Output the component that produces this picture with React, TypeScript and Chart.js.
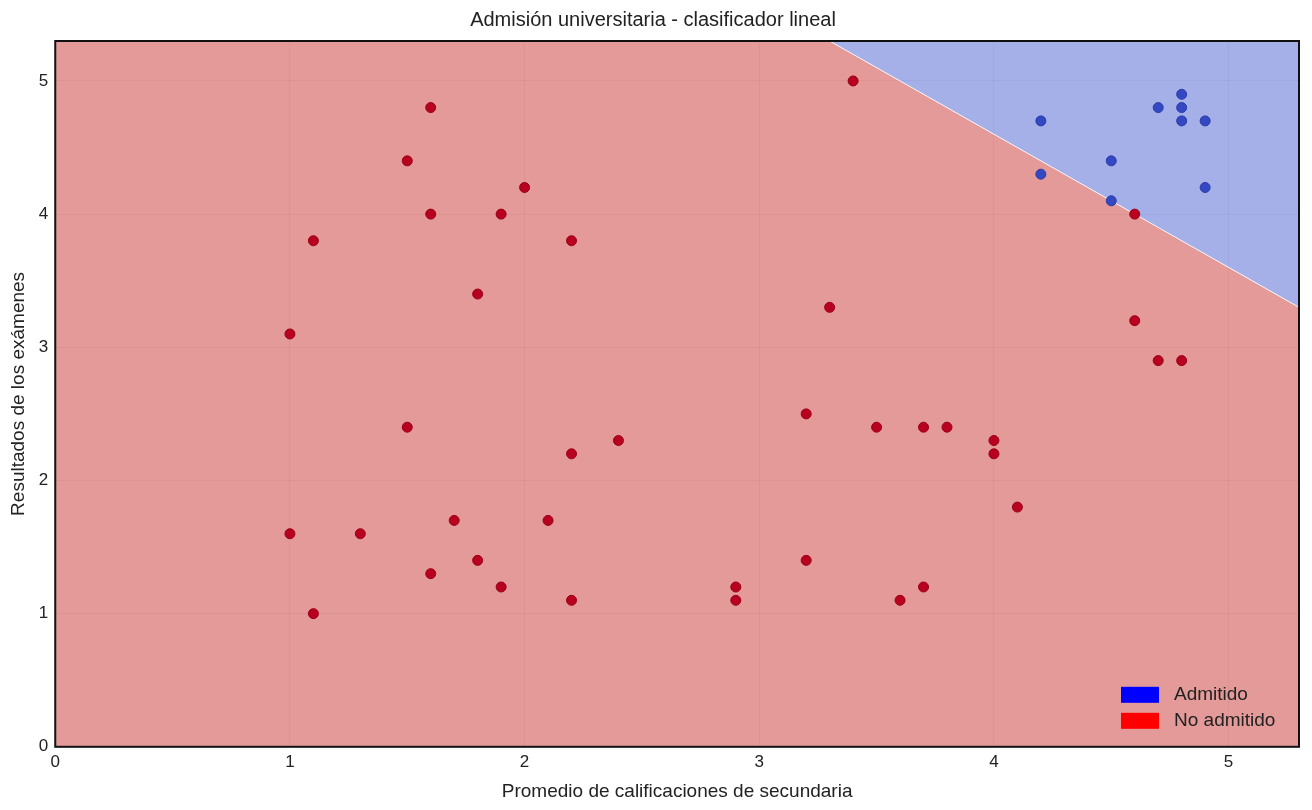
import React, { useEffect, useRef } from 'react'
import { Chart, registerables } from 'chart.js'

Chart.register(...registerables)

// alumnos admitidos (promedio, examen)
const admitidoX = [4.2, 4.2, 4.5, 4.5, 4.7, 4.8, 4.8, 4.8, 4.9, 4.9]
const admitidoY = [4.7, 4.3, 4.4, 4.1, 4.8, 4.9, 4.8, 4.7, 4.7, 4.2]

// alumnos no admitidos
const noAdmitidoX = [
  3.4, 1.6, 1.5, 2.0, 1.6, 1.9, 1.1, 2.2, 1.8, 3.3, 1.0, 4.6, 4.7, 4.8, 4.6, 3.2, 1.5, 3.5, 3.7, 3.8,
  2.4, 4.0, 2.2, 4.0, 4.1, 1.7, 2.1, 1.0, 1.3, 1.8, 3.2, 1.6, 1.9, 2.9, 3.7, 2.2, 2.9, 3.6, 1.1,
]
const noAdmitidoY = [
  5.0, 4.8, 4.4, 4.2, 4.0, 4.0, 3.8, 3.8, 3.4, 3.3, 3.1, 3.2, 2.9, 2.9, 4.0, 2.5, 2.4, 2.4, 2.4, 2.4,
  2.3, 2.3, 2.2, 2.2, 1.8, 1.7, 1.7, 1.6, 1.6, 1.4, 1.4, 1.3, 1.2, 1.2, 1.2, 1.1, 1.1, 1.1, 1.0,
]

// frontera de decisión (x + y = 8.6) y regiones
const axisMax = 5.3
const rojoX = [0, 3.3, 5.3]
const rojoY = [5.3, 5.3, 3.3]
const azulX = [3.3, 5.3]
const azulY = [5.3, 3.3]

const tickValues = [0, 1, 2, 3, 4, 5]

const FONT = "'Liberation Sans', Arial, sans-serif"

const zip = (xs: number[], ys: number[]) => xs.map((x, i) => ({ x, y: ys[i] }))

const frameAndLegend = {
  id: 'frameAndLegend',
  afterDatasetsDraw(chart: Chart) {
    const { ctx, chartArea: a } = chart
    ctx.save()
    ctx.strokeStyle = '#111'
    ctx.lineWidth = 2
    ctx.strokeRect(a.left, a.top, a.right - a.left, a.bottom - a.top)

    const items = [
      { label: 'Admitido', color: '#0000ff' },
      { label: 'No admitido', color: '#ff0000' },
    ]
    ctx.font = `19px ${FONT}`
    ctx.textBaseline = 'middle'
    items.forEach((it, i) => {
      const bx = a.right - 178
      const by = a.bottom - 60 + i * 26
      ctx.fillStyle = it.color
      ctx.fillRect(bx, by, 38, 16)
      ctx.fillStyle = '#222'
      ctx.fillText(it.label, bx + 53, by + 8)
    })
    ctx.restore()
  },
}

const App: React.FC = () => {
  const canvasRef = useRef<HTMLCanvasElement>(null)

  useEffect(() => {
    document.body.style.margin = '0'
    if (!canvasRef.current) return

    const keepIntegers = (axis: any) => {
      axis.ticks = axis.ticks.filter((t: any) => tickValues.includes(t.value))
    }

    const chart = new Chart(canvasRef.current, {
      type: 'scatter',
      data: {
        datasets: [
          {
            label: 'Admitido',
            data: zip(admitidoX, admitidoY),
            backgroundColor: '#3448c2',
            borderColor: '#2a3ba8',
            borderWidth: 1,
            pointRadius: 5,
            order: 0,
          },
          {
            label: 'No admitido',
            data: zip(noAdmitidoX, noAdmitidoY),
            backgroundColor: '#b8001f',
            borderColor: '#98001a',
            borderWidth: 1,
            pointRadius: 5,
            order: 0,
          },
          {
            label: 'region azul',
            data: zip(azulX, azulY),
            showLine: true,
            fill: 'end',
            backgroundColor: 'rgba(77,97,209,0.5)',
            borderColor: 'rgba(255,255,255,0.9)',
            borderWidth: 1,
            pointRadius: 0,
            order: 2,
          },
          {
            label: 'region roja',
            data: zip(rojoX, rojoY),
            showLine: true,
            fill: 'start',
            backgroundColor: 'rgba(199,53,49,0.5)',
            borderColor: 'rgba(0,0,0,0)',
            borderWidth: 0,
            pointRadius: 0,
            order: 3,
          },
        ],
      },
      options: {
        responsive: true,
        maintainAspectRatio: false,
        animation: false,
        layout: { padding: { top: 4, right: 13, left: 7, bottom: 7 } },
        plugins: {
          legend: { display: false },
          tooltip: { enabled: false },
          title: {
            display: true,
            text: 'Admisión universitaria - clasificador lineal',
            color: '#222',
            font: { family: FONT, size: 20, weight: 'normal' },
            padding: { top: 4, bottom: 9 },
          },
        },
        scales: {
          x: {
            type: 'linear',
            min: 0,
            max: axisMax,
            afterBuildTicks: keepIntegers,
            ticks: { stepSize: 1, color: '#222', font: { family: FONT, size: 17 }, padding: 5 },
            grid: { color: 'rgba(0,0,0,0.06)', drawTicks: false },
            border: { display: false },
            title: {
              display: true,
              text: 'Promedio de calificaciones de secundaria',
              color: '#222',
              font: { family: FONT, size: 19 },
              padding: { top: 3, bottom: 0 },
            },
          },
          y: {
            type: 'linear',
            min: 0,
            max: axisMax,
            afterBuildTicks: keepIntegers,
            ticks: { stepSize: 1, color: '#222', font: { family: FONT, size: 17 }, padding: 7 },
            grid: { color: 'rgba(0,0,0,0.06)', drawTicks: false },
            border: { display: false },
            title: {
              display: true,
              text: 'Resultados de los exámenes',
              color: '#222',
              font: { family: FONT, size: 19 },
              padding: { top: 0, bottom: 2 },
            },
          },
        },
      },
      plugins: [frameAndLegend],
    })

    return () => chart.destroy()
  }, [])

  return (
    <div style={{ width: 1312, height: 810, background: '#fff' }}>
      <canvas ref={canvasRef} />
    </div>
  )
}

export default App
